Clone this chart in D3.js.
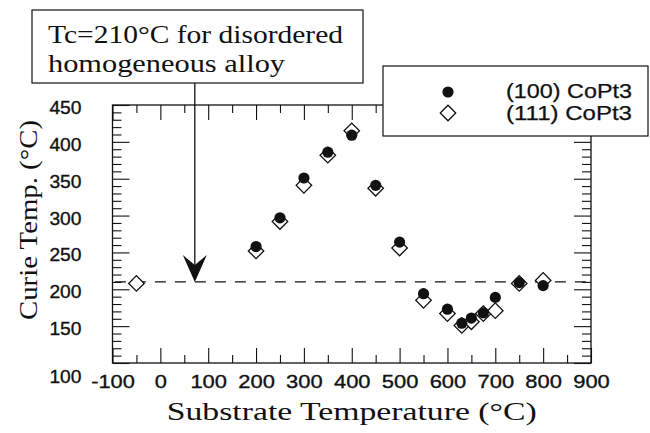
<!DOCTYPE html>
<html>
<head>
<meta charset="utf-8">
<script src="https://cdn.jsdelivr.net/npm/d3@7"></script>
<style>
  body { margin: 0; background: #fff; }
</style>
</head>
<body>
<svg id="chart" width="650" height="433"></svg>
<script>
  // Data
  const temps100 = [200, 250, 300, 350, 400, 450, 500, 550, 600, 630, 650, 675, 700, 750, 800];
  const curie100 = [258, 297, 351, 386, 409, 341, 264, 194, 173, 154, 161, 168, 189, 209, 205];
  const temps111 = [-50, 200, 250, 300, 350, 400, 450, 500, 550, 600, 630, 650, 675, 700, 750, 800];
  const curie111 = [208, 252, 292, 341, 382, 415, 337, 256, 185, 167, 151, 156, 167, 171, 208, 212];
  const xTicks = d3.range(-100, 901, 100);
  const xMinorTicks = d3.range(-50, 900, 100);
  const yTicks = d3.range(100, 451, 50);
  const yMinorTicks = d3.range(110, 450, 10).filter((v) => v % 50 !== 0);
  const legendLabels = ["(100) CoPt3", "(111) CoPt3"];
  const tcDisordered = 210;
  const arrowTemp = 72;
  const noteLines = ["Tc=210°C for disordered", "homogeneous alloy"];

  const data100 = temps100.map((t, i) => ({ t: t, c: curie100[i] }));
  const data111 = temps111.map((t, i) => ({ t: t, c: curie111[i] }));

  // Chart dimensions
  const width = 650;
  const height = 433;
  const marginTop = 105;
  const marginRight = 59;
  const marginBottom = 70;
  const marginLeft = 112.5;

  const x = d3.scaleLinear().domain([-100, 900]).range([marginLeft, width - marginRight]);
  const y = d3.scaleLinear().domain([100, 450]).range([height - marginBottom, marginTop]);

  const svg = d3.select("#chart");
  const ink = "#111";
  const sans = "'Liberation Sans', Arial, sans-serif";
  const serif = "'Liberation Serif', serif";

  // width of a numeric label in the original lettering
  const labelWidth = (s, digit) => s.replace("-", "").length * digit + (s[0] === "-" ? 7 : 0);

  // Frame
  svg.append("rect")
    .attr("x", x(-100)).attr("y", y(450))
    .attr("width", x(900) - x(-100)).attr("height", y(100) - y(450))
    .attr("fill", "none").attr("stroke", ink).attr("stroke-width", 1.3);

  // Inward ticks on all four sides
  function ticks(axis, transform) {
    const g = svg.append("g").attr("transform", transform).call(axis);
    g.select(".domain").remove();
    g.selectAll("text").remove();
    g.selectAll("line").attr("stroke", ink).attr("stroke-width", 1.1);
    return g;
  }
  const atBottom = `translate(0,${y(100)})`;
  const atTop = `translate(0,${y(450)})`;
  const atLeft = `translate(${x(-100)},0)`;
  const atRight = `translate(${x(900)},0)`;
  ticks(d3.axisBottom(x).tickValues(xTicks).tickSize(-15), atBottom);
  ticks(d3.axisBottom(x).tickValues(xMinorTicks).tickSize(-8), atBottom);
  ticks(d3.axisTop(x).tickValues(xTicks).tickSize(-15), atTop);
  ticks(d3.axisTop(x).tickValues(xMinorTicks).tickSize(-8), atTop);
  ticks(d3.axisLeft(y).tickValues(yTicks).tickSize(-17), atLeft);
  ticks(d3.axisLeft(y).tickValues(yMinorTicks).tickSize(-9), atLeft);
  ticks(d3.axisRight(y).tickValues(yTicks).tickSize(-17), atRight);
  ticks(d3.axisRight(y).tickValues(yMinorTicks).tickSize(-9), atRight);

  // Tick labels (plain hyphen for the negative value)
  const xLab = svg.append("g")
    .attr("transform", atBottom)
    .call(d3.axisBottom(x).tickValues(xTicks).tickSize(0).tickPadding(12)
      .tickFormat((d) => String(d)));
  xLab.select(".domain").remove();
  xLab.selectAll("text")
    .attr("font-family", sans)
    .attr("font-size", 19)
    .attr("textLength", (d) => labelWidth(String(d), 12.2))
    .attr("lengthAdjust", "spacingAndGlyphs")
    .attr("fill", ink).attr("stroke", ink).attr("stroke-width", 0.35);

  const yLab = svg.append("g")
    .attr("transform", atLeft)
    .call(d3.axisLeft(y).tickValues(yTicks).tickSize(0).tickPadding(31)
      .tickFormat((d) => String(d)));
  yLab.select(".domain").remove();
  yLab.selectAll("text")
    .attr("font-family", sans)
    .attr("font-size", 19)
    .attr("textLength", (d) => labelWidth(String(d), 10.7))
    .attr("lengthAdjust", "spacingAndGlyphs")
    .attr("fill", ink).attr("stroke", ink).attr("stroke-width", 0.35)
    .attr("dy", (d) => (d === 100 ? "1.0em" : "0.45em"));

  // Axis titles
  svg.append("text")
    .attr("x", (x(-100) + x(900)) / 2).attr("y", 420)
    .attr("text-anchor", "middle")
    .attr("font-family", serif).attr("font-size", 26)
    .attr("textLength", 370).attr("lengthAdjust", "spacingAndGlyphs")
    .attr("fill", ink)
    .text("Substrate  Temperature  (°C)");

  svg.append("text")
    .attr("transform", `translate(37,${(y(100) + y(450)) / 2 - 14}) rotate(-90)`)
    .attr("text-anchor", "middle")
    .attr("font-family", serif).attr("font-size", 26)
    .attr("textLength", 200).attr("lengthAdjust", "spacingAndGlyphs")
    .attr("fill", ink)
    .text("Curie Temp. (°C)");

  // Dashed reference line at Tc of the disordered alloy
  svg.append("line")
    .attr("x1", x(-95)).attr("x2", x(900))
    .attr("y1", y(tcDisordered)).attr("y2", y(tcDisordered))
    .attr("stroke", ink).attr("stroke-width", 1.4)
    .attr("stroke-dasharray", "11,9");

  // Markers: diamonds first, filled circles on top
  const diamond = d3.symbol().type(d3.symbolSquare).size(120);
  svg.append("g")
    .selectAll("path")
    .data(data111)
    .enter()
    .append("path")
    .attr("d", diamond)
    .attr("transform", (d) => `translate(${x(d.t)},${y(d.c)}) rotate(45)`)
    .attr("fill", "#fff").attr("stroke", ink).attr("stroke-width", 1.3);

  svg.append("g")
    .selectAll("circle")
    .data(data100)
    .enter()
    .append("circle")
    .attr("cx", (d) => x(d.t)).attr("cy", (d) => y(d.c))
    .attr("r", 5.6).attr("fill", ink);

  // Legend box (covers the top right corner of the frame)
  const legend = svg.append("g");
  legend.append("rect")
    .attr("x", 383).attr("y", 66).attr("width", 265).attr("height", 70)
    .attr("fill", "#fff").attr("stroke", ink).attr("stroke-width", 1.2);
  legend.append("circle").attr("cx", 448).attr("cy", 92).attr("r", 5.6).attr("fill", ink);
  legend.append("path")
    .attr("d", diamond)
    .attr("transform", "translate(448,113) rotate(45)")
    .attr("fill", "#fff").attr("stroke", ink).attr("stroke-width", 1.3);
  legend.selectAll("text.lab")
    .data(legendLabels)
    .enter()
    .append("text")
    .attr("class", "lab")
    .attr("x", 632).attr("y", (d, i) => 98 + i * 22)
    .attr("text-anchor", "end")
    .attr("font-family", sans).attr("font-size", 20)
    .attr("textLength", 126).attr("lengthAdjust", "spacingAndGlyphs")
    .attr("fill", ink).attr("stroke", ink).attr("stroke-width", 0.25)
    .text((d) => d);

  // Annotation box and arrow
  svg.append("line")
    .attr("x1", x(arrowTemp)).attr("x2", x(arrowTemp))
    .attr("y1", 83).attr("y2", y(tcDisordered) - 10)
    .attr("stroke", ink).attr("stroke-width", 1.3);
  const ax = x(arrowTemp), ay = y(tcDisordered);
  svg.append("path")
    .attr("d", `M${ax},${ay} L${ax - 12},${ay - 27} L${ax},${ay - 17} L${ax + 12},${ay - 27} Z`)
    .attr("fill", ink);

  svg.append("rect")
    .attr("x", 32).attr("y", 10).attr("width", 331).attr("height", 73)
    .attr("fill", "#fff").attr("stroke", ink).attr("stroke-width", 1.2);
  svg.selectAll("text.note")
    .data(noteLines)
    .enter()
    .append("text")
    .attr("class", "note")
    .attr("x", 48).attr("y", (d, i) => 43 + i * 29)
    .attr("font-family", serif).attr("font-size", 25)
    .attr("textLength", (d, i) => (i === 0 ? 295 : 237)).attr("lengthAdjust", "spacingAndGlyphs")
    .attr("fill", ink)
    .text((d) => d);
</script>
</body>
</html>
